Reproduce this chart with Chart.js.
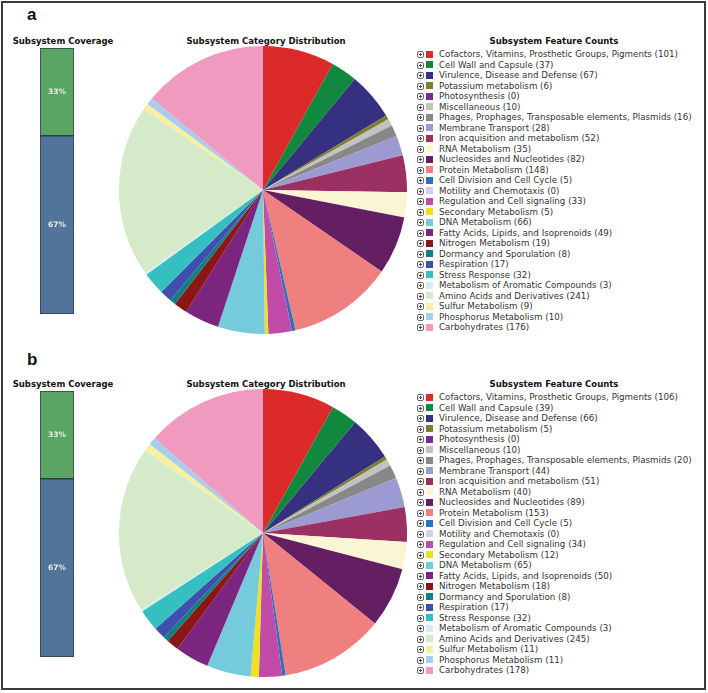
<!DOCTYPE html>
<html>
<head>
<meta charset="utf-8">
<script src="https://cdn.jsdelivr.net/npm/chart.js@4.4.1/dist/chart.umd.min.js"></script>
<style>
  body { margin: 0; width: 708px; height: 693px; background: #fff; position: relative; overflow: hidden;
         font-family: "DejaVu Sans", Verdana, sans-serif; }
  .frame { position: absolute; left: 1px; top: 1px; width: 705px; height: 689px; border: 2px solid #3a3a3a; box-sizing: border-box; }
  .lbl { position: absolute; font: bold 17px "Liberation Sans", Arial, sans-serif; color: #111; line-height: 1; }
  .ttl { position: absolute; font-weight: bold; font-size: 8.5px; color: #111; transform: translateX(-50%); white-space: nowrap; line-height: 1; }
  canvas { position: absolute; }
  .row { position: absolute; left: 417px; height: 10px; white-space: nowrap; font-size: 8.7px; color: #333; line-height: 10px; }
  .pl { position: absolute; left: 0; top: 2px; width: 5px; height: 5px; border: 1px solid #666; border-radius: 2px; }
  .pl:before { content: ""; position: absolute; left: 1px; width: 3px; top: 2px; height: 1px; background: #444; }
  .pl:after { content: ""; position: absolute; top: 1px; height: 3px; left: 2px; width: 1px; background: #444; }
  .sw { position: absolute; left: 9px; top: 1.5px; width: 7px; height: 7px; }
  .tx { position: absolute; left: 22px; top: 0; }
</style>
</head>
<body>
<div class="frame"></div>
<script>
// categorías de subsistemas (orden del pastel y de la leyenda)
const categories = [
  "Cofactors, Vitamins, Prosthetic Groups, Pigments", "Cell Wall and Capsule", "Virulence, Disease and Defense",
  "Potassium metabolism", "Photosynthesis", "Miscellaneous", "Phages, Prophages, Transposable elements, Plasmids",
  "Membrane Transport", "Iron acquisition and metabolism", "RNA Metabolism", "Nucleosides and Nucleotides",
  "Protein Metabolism", "Cell Division and Cell Cycle", "Motility and Chemotaxis", "Regulation and Cell signaling",
  "Secondary Metabolism", "DNA Metabolism", "Fatty Acids, Lipids, and Isoprenoids", "Nitrogen Metabolism",
  "Dormancy and Sporulation", "Respiration", "Stress Response", "Metabolism of Aromatic Compounds",
  "Amino Acids and Derivatives", "Sulfur Metabolism", "Phosphorus Metabolism", "Carbohydrates"
];
const countsA = [101, 37, 67, 6, 0, 10, 16, 28, 52, 35, 82, 148, 5, 0, 33, 5, 66, 49, 19, 8, 17, 32, 3, 241, 9, 10, 176];
const countsB = [106, 39, 66, 5, 0, 10, 20, 44, 51, 40, 89, 153, 5, 0, 34, 12, 65, 50, 18, 8, 17, 32, 3, 245, 11, 11, 178];
const sliceColors = [
  "#dc2a2b", "#10893f", "#35307f", "#7f7f2a", "#7b2a8f", "#c2c2c2", "#888888",
  "#9c9ad2", "#9b3162", "#faf5d3", "#641f62", "#f07f80", "#2e6ebf", "#d2d0ec", "#c04ba8",
  "#efe021", "#75cadc", "#7b2581", "#8a1616", "#0f8080", "#3f4fb0", "#36bfc1", "#d6edf6",
  "#d4eac8", "#f6f0a0", "#a9cdec", "#f09ac0"
];
// cobertura: [en subsistema, fuera de subsistema]
const coverage = [33, 67];
const coverageColors = ["#5aa563", "#52739a"];

const PANEL_DY = 343;

function text(cls, str, x, y) {
  const d = document.createElement("div");
  d.className = cls; d.textContent = str;
  d.style.left = x + "px"; d.style.top = y + "px";
  document.body.appendChild(d);
  return d;
}
function canvasAt(x, y, w, h) {
  const c = document.createElement("canvas");
  c.width = w; c.height = h;
  c.style.left = x + "px"; c.style.top = y + "px";
  document.body.appendChild(c);
  return c;
}

// etiquetas de porcentaje dentro de la barra de cobertura
const pctLabels = {
  id: "pctLabels",
  afterDatasetsDraw(chart) {
    const ctx = chart.ctx;
    ctx.save();
    ctx.fillStyle = "#e8eee8";
    ctx.font = "bold 7.5px 'DejaVu Sans', Verdana, sans-serif";
    ctx.textAlign = "center"; ctx.textBaseline = "middle";
    chart.data.datasets.forEach((ds, i) => {
      const el = chart.getDatasetMeta(i).data[0];
      if (!el) return;
      ctx.fillText(ds.data[0] + "%", el.x, (el.y + el.base) / 2);
    });
    ctx.restore();
  }
};

function coverageBar(dy) {
  const c = canvasAt(40, 48 + dy, 34, 266);
  new Chart(c.getContext("2d"), {
    type: "bar",
    data: {
      labels: [""],
      datasets: [
        { data: [coverage[1]], backgroundColor: coverageColors[1], borderColor: "#2e3a44", borderWidth: 1, borderSkipped: false },
        { data: [coverage[0]], backgroundColor: coverageColors[0], borderColor: "#2e3a44", borderWidth: 1, borderSkipped: false },
      ],
    },
    options: {
      responsive: false, animation: false, maintainAspectRatio: false,
      datasets: { bar: { barPercentage: 1, categoryPercentage: 1 } },
      layout: { padding: 0 },
      plugins: { legend: { display: false }, tooltip: { enabled: false } },
      scales: {
        x: { stacked: true, display: false },
        y: { stacked: true, display: false, min: 0, max: 100 },
      },
    },
    plugins: [pctLabels],
  });
}

function pie(dy, counts) {
  const c = canvasAt(119, 46 + dy, 288, 288);
  new Chart(c.getContext("2d"), {
    type: "pie",
    data: { labels: categories, datasets: [{ data: counts, backgroundColor: sliceColors, borderWidth: 0 }] },
    options: {
      responsive: false, animation: false, maintainAspectRatio: false,
      layout: { padding: 0 },
      plugins: { legend: { display: false }, tooltip: { enabled: false } },
    },
  });
}

function legend(dy, counts) {
  categories.forEach((name, i) => {
    const row = document.createElement("div");
    row.className = "row";
    row.style.top = (49 + dy + i * 10.5) + "px";
    row.innerHTML = '<span class="pl"></span><span class="sw" style="background:' + sliceColors[i] + '"></span>' +
      '<span class="tx"></span>';
    row.querySelector(".tx").textContent = name + " (" + counts[i] + ")";
    document.body.appendChild(row);
  });
}

function panel(letter, dy, labelY, counts) {
  text("lbl", letter, 27, labelY);
  text("ttl", "Subsystem Coverage", 63, 37 + dy);
  text("ttl", "Subsystem Category Distribution", 266, 37 + dy);
  text("ttl", "Subsystem Feature Counts", 554, 37 + dy);
  coverageBar(dy);
  pie(dy, counts);
  legend(dy, counts);
}

panel("a", 0, 6, countsA);
panel("b", PANEL_DY, 351, countsB);
</script>
</body>
</html>
